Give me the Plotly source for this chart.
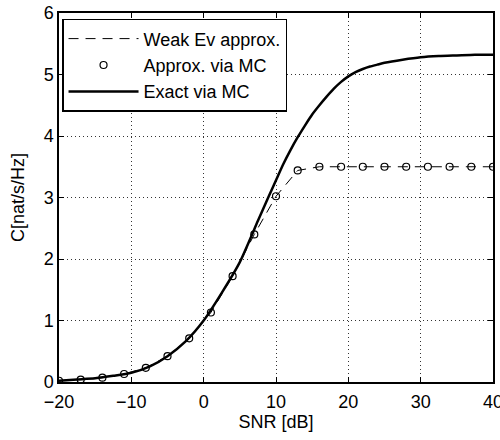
import plotly.graph_objects as go

# Data
snr_mc = [-20, -17, -14, -11, -8, -5, -2, 1, 4, 7, 10, 13, 16, 19, 22, 25, 28, 31, 34, 37, 40]
cap_approx = [0.02, 0.04, 0.07, 0.13, 0.23, 0.42, 0.71, 1.13, 1.72, 2.40, 3.02, 3.44, 3.50,
              3.50, 3.50, 3.50, 3.50, 3.50, 3.50, 3.50, 3.50]

snr_exact = [-20, -17.5, -15, -12.5, -10, -7.5, -5, -2.5, 0, 2.5, 5, 7.5, 9, 10, 11, 12, 13,
             14, 15, 16, 17, 18, 19, 20, 21, 22, 23, 24, 25, 27.5, 30, 32.5, 35, 37.5, 40]
cap_exact = [0.02, 0.04, 0.06, 0.10, 0.15, 0.25, 0.42, 0.66, 1.00, 1.45, 1.95, 2.62, 3.02,
             3.28, 3.54, 3.77, 3.98, 4.17, 4.35, 4.50, 4.64, 4.77, 4.88, 4.97, 5.04, 5.09,
             5.13, 5.16, 5.19, 5.24, 5.28, 5.30, 5.31, 5.32, 5.32]

FONT = "Liberation Sans, Arial, Helvetica, sans-serif"
FS = 18

fig = go.Figure()
fig.add_trace(go.Scatter(x=snr_mc, y=cap_approx, mode="lines", name="Weak Ev approx.",
                         line=dict(color="black", width=1, dash="10px,7px")))
fig.add_trace(go.Scatter(x=snr_mc, y=cap_approx, mode="markers", name="Approx. via MC",
                         marker=dict(symbol="circle-open", size=7, color="black",
                                     line=dict(width=1.2, color="black"))))
fig.add_trace(go.Scatter(x=snr_exact, y=cap_exact, mode="lines", name="Exact via MC",
                         line=dict(color="black", width=2.5, shape="spline", smoothing=0.6)))

axis_common = dict(showline=True, linecolor="black", linewidth=1.5, mirror="allticks",
                   ticks="inside", ticklen=5, tickwidth=1, tickcolor="black",
                   showgrid=True, gridcolor="#333333", griddash="1px,3px", gridwidth=1,
                   zeroline=False, automargin=False, ticklabeloverflow="allow",
                   tickfont=dict(size=FS, color="black", family=FONT))

fig.update_xaxes(range=[-20, 40], tick0=-20, dtick=10, ticklabelstandoff=3,
                 title=dict(text="SNR [dB]",
                            font=dict(size=FS, color="black", family=FONT), standoff=4),
                 **axis_common)
fig.update_yaxes(range=[0, 6], dtick=1, title=dict(text="C[nat/s/Hz]",
                 font=dict(size=FS, color="black", family=FONT), standoff=14),
                 **axis_common)

fig.update_layout(
    width=500, height=440,
    margin=dict(l=59, r=7, t=13, b=58),
    plot_bgcolor="white", paper_bgcolor="white",
    font=dict(family=FONT, size=FS, color="black"),
    showlegend=True,
    legend=dict(x=0.007, y=0.984, xanchor="left", yanchor="top",
                bgcolor="white", bordercolor="black", borderwidth=1.5,
                font=dict(size=FS, family=FONT, color="black"),
                itemwidth=70, tracegroupgap=0),
)

fig.write_html("out.html", config={"displayModeBar": False},
               post_script="document.body.style.margin='0px';document.body.style.overflow='hidden';")
